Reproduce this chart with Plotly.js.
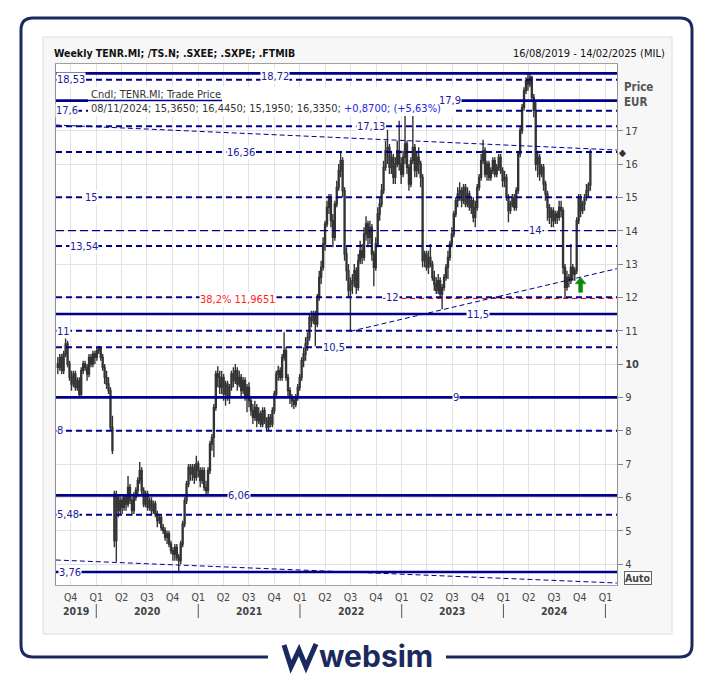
<!DOCTYPE html>
<html><head><meta charset="utf-8">
<script src="https://cdn.plot.ly/plotly-3.0.1.min.js"></script>
<style>html,body{margin:0;padding:0;background:#fff;}#chart{width:713px;height:677px;}</style>
</head><body><div id="chart"></div>
<script>
// ---------- DATA ----------
const firstWeek = '2019-08-16';
const openPx = [10.0,9.9,10.2,9.8,10.3,10.6,10.0,9.6,9.4,9.7,
9.3,9.5,9.1,9.8,10.0,9.9,9.7,10.2,10.0,10.3,
10.2,10.4,10.5,10.2,9.9,9.6,9.4,9.2,8.1,6.1,
4.7,6.0,5.6,5.9,5.7,6.0,5.8,6.3,5.9,5.6,
6.0,6.2,6.5,6.8,6.2,5.8,6.1,5.7,5.9,5.6,
5.8,5.5,5.3,5.4,5.1,5.0,4.8,4.9,4.6,4.4,
4.3,4.5,4.2,4.1,4.6,5.2,5.9,6.4,6.9,6.7,
6.9,6.6,7.0,6.8,6.5,6.8,6.3,6.2,6.8,7.6,
7.8,8.7,9.7,9.6,9.3,9.6,9.1,9.4,9.0,9.3,
9.7,9.5,9.8,9.4,9.6,9.2,9.5,9.0,9.3,8.9,
8.6,8.4,8.7,8.3,8.5,8.2,8.6,8.3,8.1,8.4,
8.2,8.6,9.1,9.7,9.8,9.6,10.2,10.4,9.6,9.2,
9.0,8.9,8.8,9.0,9.3,9.6,10.1,10.3,10.6,10.8,
11.4,11.3,11.5,11.2,12.0,12.6,12.9,13.6,14.2,14.7,
15.0,14.3,13.8,14.8,15.3,15.8,16.1,15.2,13.3,12.8,
12.2,12.4,12.5,12.8,12.3,13.1,13.4,13.2,13.9,14.2,
13.8,14.1,13.3,12.9,13.6,14.5,14.8,15.2,15.9,16.4,
16.5,15.9,16.2,15.6,16.0,16.4,16.0,15.7,16.2,16.6,
15.9,15.4,16.1,16.5,15.8,16.2,16.0,15.6,13.1,13.3,
12.9,13.2,13.0,12.6,12.4,12.2,12.5,12.1,12.3,12.6,
12.9,13.2,13.6,13.9,14.5,14.9,15.1,15.2,14.9,15.3,
14.8,15.1,14.7,14.9,14.4,14.7,15.3,15.6,16.1,16.4,
15.7,16.0,15.6,15.8,16.1,15.7,15.9,16.2,15.8,15.5,
15.6,15.0,14.6,14.8,15.0,14.7,15.2,16.3,17.0,17.7,
18.2,18.5,18.4,18.6,18.0,17.6,16.0,16.2,15.7,15.9,
15.4,15.1,14.7,14.4,14.6,14.3,14.5,14.4,14.7,14.6,
12.9,12.3,12.6,12.5,12.9,12.7,12.8,14.3,15.0,14.6,
14.8,15.0,15.2,15.365];
const highPx = [10.2,10.3,10.3,10.4,10.8,10.7,10.1,9.8,9.8,9.8,
9.6,9.6,9.9,10.1,10.1,10.0,10.3,10.3,10.4,10.4,
10.5,10.55,10.5,10.3,10.0,9.8,9.6,9.3,8.45,6.2,
6.2,6.1,6.0,6.0,6.1,6.1,6.64,6.4,6.0,6.15,
6.3,6.6,7.06,6.9,6.3,6.2,6.2,6.0,6.0,5.9,
5.9,5.6,5.5,5.5,5.2,5.1,5.0,5.0,4.7,4.5,
4.6,4.6,4.3,4.7,5.3,6.0,6.5,7.0,7.0,7.0,
7.0,7.25,7.1,6.9,6.9,6.9,6.5,6.9,7.7,7.9,
8.8,9.8,9.93,9.8,9.8,9.7,9.5,9.5,9.4,9.8,
9.9,10.0,9.9,9.8,9.7,9.6,9.6,9.4,9.45,9.0,
8.8,8.9,8.8,8.7,8.6,8.7,8.7,8.4,8.5,8.5,
8.7,9.2,9.8,9.95,9.9,10.3,10.95,10.5,9.7,9.3,
9.1,9.0,9.1,9.4,9.7,10.2,10.5,10.8,10.95,11.5,
11.6,11.6,11.6,12.1,12.8,13.1,13.8,14.3,14.9,15.1,
15.1,14.5,14.9,15.5,16.0,16.37,16.2,15.3,13.5,13.0,
12.6,12.7,13.0,12.9,13.3,13.7,13.6,14.1,14.43,14.3,
14.3,14.2,13.4,13.8,14.7,15.0,15.4,16.1,16.7,17.03,
16.6,16.4,16.3,16.2,16.7,17.3,16.2,16.4,17.5,16.7,
16.0,16.2,17.5,16.6,16.4,16.5,16.1,15.7,13.4,13.4,
13.4,13.6,13.1,12.8,12.6,12.7,12.6,12.4,12.7,13.0,
13.4,13.7,14.1,14.6,15.0,15.3,15.45,15.3,15.4,15.4,
15.3,15.2,15.0,15.0,14.9,15.4,15.7,16.3,16.73,16.5,
16.1,16.1,15.9,16.2,16.2,16.0,16.3,16.3,15.9,15.8,
15.7,15.1,14.9,15.1,15.1,15.3,16.4,17.1,17.8,18.3,
18.6,18.72,18.7,18.65,18.1,17.9,16.4,16.3,16.0,16.0,
15.5,15.2,14.8,14.7,14.7,14.6,14.6,14.9,14.9,14.7,
13.0,12.8,12.7,13.6,13.0,12.9,14.4,15.1,15.1,14.9,
15.1,15.4,15.45,16.445];
const lowPx = [9.7,9.8,9.7,9.7,10.2,9.9,9.5,9.2,9.3,9.2,
9.2,9.0,9.0,9.7,9.8,9.5,9.6,9.9,9.9,10.0,
10.1,10.3,10.1,9.8,9.4,9.25,9.1,8.0,7.3,4.5,
4.07,5.4,5.5,5.5,5.6,5.6,5.7,5.8,5.45,5.5,
5.9,6.1,6.4,6.1,5.7,5.7,5.6,5.6,5.45,5.5,
5.4,5.1,5.2,5.0,4.9,4.7,4.6,4.5,4.3,4.1,
4.1,4.1,3.76,4.0,4.5,5.1,5.8,6.3,6.5,6.5,
6.4,6.5,6.6,6.3,6.4,6.2,6.06,6.1,6.7,7.4,
7.2,8.6,9.3,9.1,9.1,8.9,8.75,8.9,8.8,9.2,
9.3,9.4,9.2,9.3,9.0,9.1,8.9,8.55,8.7,8.45,
8.2,8.3,8.1,8.2,8.1,8.1,8.2,8.0,8.0,8.1,
8.1,8.5,9.0,9.5,9.5,9.5,10.1,9.5,9.0,8.8,
8.7,8.65,8.7,8.9,9.2,9.5,9.9,10.1,10.4,10.7,
11.1,11.2,10.53,11.1,11.9,12.4,12.8,13.4,14.1,14.5,
14.1,13.5,13.7,14.7,15.2,15.6,15.0,13.1,12.5,12.0,
10.98,12.1,12.3,12.1,12.2,13.0,13.0,13.1,13.7,13.5,
13.6,13.1,12.33,12.8,13.5,14.3,14.7,15.1,15.8,16.0,
15.7,15.7,15.4,15.4,15.9,15.8,15.4,15.6,16.0,15.7,
15.2,15.3,16.0,15.6,15.6,15.7,15.3,12.9,12.9,12.8,
12.7,12.9,12.5,12.2,12.1,12.1,12.0,11.64,12.2,12.5,
12.55,13.1,13.5,13.8,14.4,14.7,14.9,14.7,14.8,14.7,
14.7,14.6,14.5,14.25,14.1,14.6,15.2,15.5,16.0,15.6,
15.5,15.5,15.5,15.7,15.6,15.6,15.8,15.7,15.3,15.3,
14.9,14.25,14.5,14.7,14.6,14.6,15.1,16.2,16.9,17.6,
18.1,18.2,18.3,17.9,17.4,15.8,15.6,15.5,15.6,15.2,
14.9,14.3,14.2,14.1,14.1,14.2,14.2,14.3,14.4,12.7,
11.95,12.2,12.3,12.4,12.5,12.5,12.7,14.2,14.4,14.5,
14.6,14.9,15.0,15.195];
const closePx = [9.9,10.2,9.8,10.3,10.6,10.0,9.6,9.4,9.7,9.3,
9.5,9.1,9.8,10.0,9.9,9.7,10.2,10.0,10.3,10.2,
10.4,10.5,10.2,9.9,9.6,9.4,9.2,8.1,7.4,4.7,
6.0,5.6,5.9,5.7,6.0,5.8,6.3,5.9,5.6,6.0,
6.2,6.5,6.8,6.2,5.8,6.1,5.7,5.9,5.6,5.8,
5.5,5.3,5.4,5.1,5.0,4.8,4.9,4.6,4.4,4.3,
4.5,4.2,4.1,4.6,5.2,5.9,6.4,6.9,6.7,6.9,
6.6,7.0,6.8,6.5,6.8,6.3,6.2,6.8,7.6,7.8,
8.7,9.7,9.6,9.3,9.6,9.1,9.4,9.0,9.3,9.7,
9.5,9.8,9.4,9.6,9.2,9.5,9.0,9.3,8.9,8.6,
8.4,8.7,8.3,8.5,8.2,8.6,8.3,8.1,8.4,8.2,
8.6,9.1,9.7,9.8,9.6,10.2,10.4,9.6,9.2,9.0,
8.9,8.8,9.0,9.3,9.6,10.1,10.3,10.6,10.8,11.4,
11.3,11.5,11.2,12.0,12.6,12.9,13.6,14.2,14.7,15.0,
14.3,13.8,14.8,15.3,15.8,16.1,15.2,13.3,12.8,12.2,
12.4,12.5,12.8,12.3,13.1,13.4,13.2,13.9,14.2,13.8,
14.1,13.3,12.9,13.6,14.5,14.8,15.2,15.9,16.4,16.5,
15.9,16.2,15.6,16.0,16.4,16.0,15.7,16.2,16.6,15.9,
15.4,16.1,16.5,15.8,16.2,16.0,15.6,13.1,13.3,12.9,
13.2,13.0,12.6,12.4,12.2,12.5,12.1,12.3,12.6,12.9,
13.2,13.6,13.9,14.5,14.9,15.1,15.2,14.9,15.3,14.8,
15.1,14.7,14.9,14.4,14.7,15.3,15.6,16.1,16.4,15.7,
16.0,15.6,15.8,16.1,15.7,15.9,16.2,15.8,15.5,15.6,
15.0,14.6,14.8,15.0,14.7,15.2,16.3,17.0,17.7,18.2,
18.5,18.4,18.6,18.0,17.6,16.0,16.2,15.7,15.9,15.4,
15.1,14.7,14.4,14.6,14.3,14.5,14.4,14.7,14.6,12.9,
12.3,12.6,12.5,12.9,12.7,12.8,14.3,15.0,14.6,14.8,
15.0,15.2,15.365,16.335];

const quarterDates = ['2019-10-01','2020-01-01','2020-04-01','2020-07-01','2020-10-01',
 '2021-01-01','2021-04-01','2021-07-01','2021-10-01','2022-01-01','2022-04-01','2022-07-01','2022-10-01',
 '2023-01-01','2023-04-01','2023-07-01','2023-10-01','2024-01-01','2024-04-01','2024-07-01','2024-10-01','2025-01-01'];
const quarterLabels = ['Q4','Q1','Q2','Q3','Q4','Q1','Q2','Q3','Q4','Q1','Q2','Q3','Q4',
 'Q1','Q2','Q3','Q4','Q1','Q2','Q3','Q4','Q1'];
const years = [2019,2020,2021,2022,2023,2024];
const yearBreaks = ['2020-01-01','2021-01-01','2022-01-01','2023-01-01','2024-01-01','2025-01-01'];
const priceTicks = [4,5,6,7,8,9,10,11,12,13,14,15,16,17];
const priceTickText = ['4','5','6','7','8','9','<b>10</b>','11','12','13','14','15','16','17'];

const solidLevels = [18.72, 17.9, 11.5, 9, 6.06, 3.76];
const dashedLevels = [18.53, 17.6, 17.13, 16.36, 15, 13.54, 12, 11, 10.5, 8, 5.48];
const thinLevels = [14];
const fibLevel = 11.9651;
const fibText = '38,2% 11,9651';
const fibStart = '2022-10-26';
const levelTexts = ['18,53','18,72','17,6','17,9','17,13','16,36','15','14','13,54','12','11,5','11','10,5','9','8','6,06','5,48','3,76'];
const levelTextValues = [18.53,18.72,17.6,17.9,17.13,16.36,15,14,13.54,12,11.5,11,10.5,9,8,6.06,5.48,3.76];

const trendUpperX = ['2019-08-09','2025-02-11'], trendUpperY = [17.17, 16.42];
const trendLowerX = ['2019-08-09','2025-02-11'], trendLowerY = [4.12, 3.43];
const trendRiseX = ['2022-07-01','2025-02-11'], trendRiseY = [10.98, 12.86];
const signalDate = '2024-10-04', signalPrice = 12.6;

const titleText = 'Weekly TENR.MI; /TS.N; .SXEE; .SXPE; .FTMIB';
const rangeText = '16/08/2019 - 14/02/2025 (MIL)';
const legendRow1 = 'Cndl; TENR.MI; Trade Price';
const lastBar = ['08/11/2024','15,3650','16,4450','15,1950','16,3350'];
const lastChange = ['+0,8700','(+5,63%)'];

// ---------- BUILD ----------
const dates = closePx.map((_, i) => {
  const d = new Date(firstWeek + 'T00:00:00Z'); d.setUTCDate(d.getUTCDate() + 7 * i);
  return d.toISOString().slice(0, 10);
});

const W = 713, H = 677, PL = 56, PT = 64, PW = 561, PH = 521;
const px = x => (x - PL) / PW;
const py = y => (PT + PH - y) / PH;
const P = (x, y) => px(x).toFixed(5) + ',' + py(y).toFixed(5);
const FONT = "'DejaVu Sans Condensed','DejaVu Sans',sans-serif";
const NAVY = '#00008b';
const LBL = '#1a1a9c';
const X0 = '2019-08-09 12:00', X1 = '2025-02-11 14:00';

const shapes = [];
shapes.push({type:'rect', xref:'paper', yref:'paper', x0:px(43), x1:px(672), y0:py(634), y1:py(37), fillcolor:'#f7f7f7', line:{color:'#dedede', width:1}, layer:'below'});
shapes.push({type:'rect', xref:'paper', yref:'paper', x0:0, x1:1, y0:0, y1:1, fillcolor:'#ffffff', line:{width:0}, layer:'below'});

solidLevels.forEach(v => shapes.push({type:'line', xref:'paper', yref:'y', x0:0, x1:1, y0:v, y1:v, line:{color:NAVY, width:2.6}, layer:'above'}));
dashedLevels.forEach(v => shapes.push({type:'line', xref:'paper', yref:'y', x0:0, x1:1, y0:v, y1:v, line:{color:NAVY, width:2, dash:'6px,4px'}, layer:'above'}));
thinLevels.forEach(v => shapes.push({type:'line', xref:'paper', yref:'y', x0:0, x1:1, y0:v, y1:v, line:{color:NAVY, width:1.2, dash:'8px,4px'}, layer:'above'}));
shapes.push({type:'line', xref:'x', yref:'y', x0:fibStart, x1:X1, y0:fibLevel, y1:fibLevel, line:{color:'#e01010', width:1.2, dash:'5px,4px'}, layer:'above'});
[[trendUpperX,trendUpperY],[trendLowerX,trendLowerY],[trendRiseX,trendRiseY]].forEach(t =>
  shapes.push({type:'line', xref:'x', yref:'y', x0:t[0][0], x1:t[0][1], y0:t[1][0], y1:t[1][1], line:{color:NAVY, width:1, dash:'5px,3px'}, layer:'above'}));
shapes.push({type:'rect', xref:'paper', yref:'paper', x0:px(88), x1:px(456), y0:py(116), y1:py(87), fillcolor:'#ffffff', line:{width:0}, layer:'above'});
shapes.push({type:'line', xref:'paper', yref:'paper', x0:px(88), x1:px(222), y0:py(100.5), y1:py(100.5), line:{color:NAVY, width:1.5}, layer:'above'});
yearBreaks.forEach(d => shapes.push({type:'line', xref:'x', yref:'paper', x0:d, x1:d, y0:py(604), y1:py(618), line:{color:'#555', width:1}}));
// green signal arrow (pixel-sized, anchored at the signal point)
shapes.push({type:'path', xref:'x', yref:'y', xsizemode:'pixel', ysizemode:'pixel', xanchor:signalDate, yanchor:signalPrice, layer:'above',
  path:'M0,0 L5.5,-6.5 L2,-6.5 L2,-15 L-2,-15 L-2,-6.5 L-5.5,-6.5 Z', fillcolor:'#0a8a0a', line:{color:'#0a8a0a', width:0.5}});
shapes.push({type:'path', xref:'paper', yref:'paper', layer:'above',
  path:'M'+P(33,18)+' L'+P(680,18)+' Q'+P(692,18)+' '+P(692,30)+' L'+P(692,645)+' Q'+P(692,657)+' '+P(680,657)+
       ' L'+P(33,657)+' Q'+P(21,657)+' '+P(21,645)+' L'+P(21,30)+' Q'+P(21,18)+' '+P(33,18)+' Z',
  line:{color:'#1b2a5e', width:3}});
shapes.push({type:'rect', xref:'paper', yref:'paper', x0:px(268), x1:px(446), y0:py(674), y1:py(640), fillcolor:'#ffffff', line:{width:0}, layer:'above'});
shapes.push({type:'path', xref:'paper', yref:'paper', layer:'above',
  path:'M'+P(284,645)+' L'+P(291,667)+' L'+P(299,650)+' L'+P(306,667)+' L'+P(316,644),
  line:{color:'#1b2a5e', width:5}});

const labelX = [71,275,67,450,371,241,91,535,84,392,478,63,334,456,60,239,68,70];
const labelShift = [0,-3,0,0,0,0,0,0,0,0,0,-1,0,0,0,0,0,0];
const ann = [];
levelTexts.forEach((t, i) => ann.push({xref:'paper', yref:'y', x:px(labelX[i]), y:levelTextValues[i], yshift:labelShift[i], text:t, showarrow:false,
  xanchor:'center', yanchor:'middle', bgcolor:'#ffffff', borderpad:0, font:{family:FONT, size:11, color:LBL}}));
ann.push({xref:'paper', yref:'y', x:px(238), y:fibLevel, yshift:-1, text:fibText, showarrow:false, xanchor:'center', yanchor:'middle',
  bgcolor:'#ffffff', borderpad:0, font:{family:FONT, size:11, color:'#ff2222'}});
ann.push({xref:'paper', yref:'paper', x:px(52), y:py(53), text:'<b>'+titleText+'</b>', showarrow:false, xanchor:'left', yanchor:'middle', font:{family:FONT, size:10.5, color:'#111'}});
ann.push({xref:'paper', yref:'paper', x:px(667), y:py(53), text:rangeText, showarrow:false, xanchor:'right', yanchor:'middle', font:{family:FONT, size:11, color:'#111'}});
ann.push({xref:'paper', yref:'paper', x:px(89), y:py(94), text:legendRow1, showarrow:false, xanchor:'left', yanchor:'middle', font:{family:FONT, size:11, color:'#333'}});
ann.push({xref:'paper', yref:'paper', x:px(89), y:py(108), text:lastBar.join('; ')+'; <span style="color:#2525e0">'+lastChange.join('; ')+'</span>', showarrow:false, xanchor:'left', yanchor:'middle', font:{family:FONT, size:11, color:'#333'}});
ann.push({xref:'paper', yref:'paper', x:px(622), y:py(87), text:'<b>Price</b>', showarrow:false, xanchor:'left', yanchor:'middle', font:{family:FONT, size:11.5, color:'#555'}});
ann.push({xref:'paper', yref:'paper', x:px(622), y:py(102), text:'<b>EUR</b>', showarrow:false, xanchor:'left', yanchor:'middle', font:{family:FONT, size:11.5, color:'#555'}});
ann.push({xref:'paper', yref:'paper', x:px(638), y:py(578), text:'<b>Auto</b>', showarrow:false, xanchor:'center', yanchor:'middle', bordercolor:'#666', borderwidth:1, borderpad:0, bgcolor:'#fafafa', font:{family:FONT, size:10.5, color:'#444'}});
ann.push({xref:'paper', yref:'y', x:px(622), y:closePx[closePx.length-1], text:'◆', showarrow:false, xanchor:'center', yanchor:'middle', font:{family:FONT, size:10, color:'#333'}});
const r0 = new Date(X0.replace(' ','T')+'Z').getTime(), r1 = new Date(X1.replace(' ','T')+'Z').getTime();
years.forEach(yr => {
  const a = Math.max(Date.UTC(yr,0,1), r0), b = Math.min(Date.UTC(yr+1,0,1), r1);
  ann.push({xref:'x', yref:'paper', x:new Date((a+b)/2).toISOString().slice(0,10), y:py(611), text:'<b>'+yr+'</b>', showarrow:false, xanchor:'center', yanchor:'middle', font:{family:FONT, size:10.5, color:'#444'}});
});
ann.push({xref:'paper', yref:'paper', x:px(376), y:py(656), text:'<b>websim</b>', showarrow:false, xanchor:'center', yanchor:'middle', font:{family:'Inter, Roboto, sans-serif', size:30, color:'#1b2a5e'}});

const trace = {type:'candlestick', x:dates, open:openPx, high:highPx, low:lowPx, close:closePx,
  increasing:{line:{color:'#333333', width:1.4}, fillcolor:'#ffffff'},
  decreasing:{line:{color:'#333333', width:1.4}, fillcolor:'#333333'},
  whiskerwidth:0, hoverinfo:'skip', showlegend:false};

const layout = {
  width:W, height:H, margin:{l:PL, r:W-PL-PW, t:PT, b:H-PT-PH}, paper_bgcolor:'#ffffff', plot_bgcolor:'#ffffff',
  showlegend:false, font:{family:FONT, size:11, color:'#444'},
  xaxis:{type:'date', range:[X0, X1], tickmode:'array', tickvals:quarterDates, ticktext:quarterLabels,
    showgrid:true, gridcolor:'#e3e3e3', gridwidth:1, showline:true, mirror:true, linecolor:'#a0a0a0', linewidth:1,
    ticks:'outside', ticklen:2, tickcolor:'rgba(0,0,0,0)', tickfont:{family:FONT, size:10.5, color:'#444'},
    rangeslider:{visible:false}, fixedrange:true, zeroline:false},
  yaxis:{side:'right', range:[3.37, 19.0], tickmode:'array', tickvals:priceTicks, ticktext:priceTickText,
    showgrid:true, gridcolor:'#e3e3e3', showline:true, mirror:true, linecolor:'#909090', linewidth:1,
    ticks:'outside', ticklen:5, tickcolor:'#888', tickfont:{family:FONT, size:11, color:'#444'}, fixedrange:true, zeroline:false},
  shapes:shapes, annotations:ann
};
Plotly.newPlot('chart', [trace], layout, {staticPlot:true, displayModeBar:false});
</script></body></html>
